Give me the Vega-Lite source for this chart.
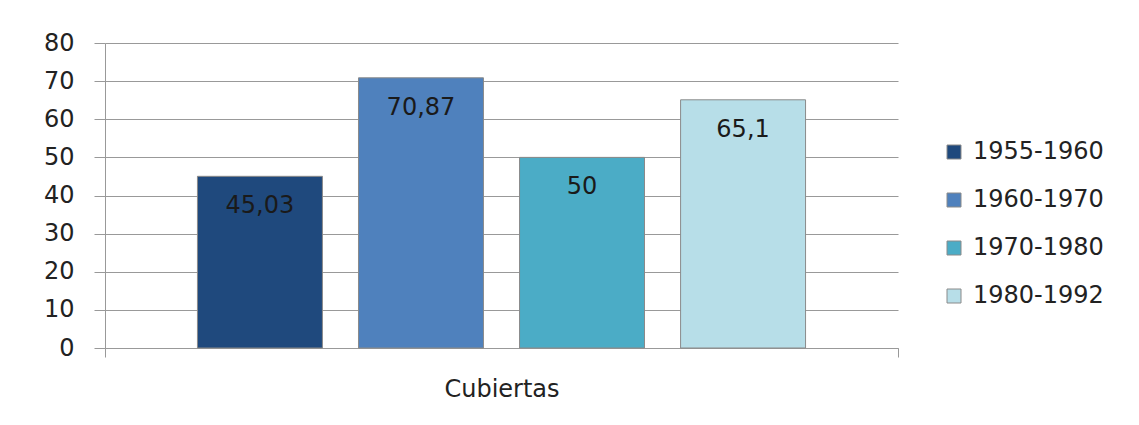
{
  "$schema": "https://vega.github.io/schema/vega-lite/v6.json",
  "autosize": {"type": "none"},
  "padding": {"left": 105, "top": 43, "right": 241, "bottom": 77},
  "width": 793,
  "height": 305,
  "background": "white",
  "config": {
    "view": {"stroke": null},
    "font": "DejaVu Sans"
  },
  "data": {
    "values": [
      {"categoria": "Cubiertas", "periodo": "1955-1960", "valor": 45.03, "etiqueta": "45,03"},
      {"categoria": "Cubiertas", "periodo": "1960-1970", "valor": 70.87, "etiqueta": "70,87"},
      {"categoria": "Cubiertas", "periodo": "1970-1980", "valor": 50, "etiqueta": "50"},
      {"categoria": "Cubiertas", "periodo": "1980-1992", "valor": 65.1, "etiqueta": "65,1"}
    ]
  },
  "encoding": {
    "x": {
      "field": "categoria",
      "type": "nominal",
      "scale": {"paddingInner": 0, "paddingOuter": 0},
      "axis": {
        "title": null,
        "labelAngle": 0,
        "labelFont": "DejaVu Sans",
        "labelFontSize": 24,
        "labelColor": "#222222",
        "labelPadding": 20,
        "tickBand": "extent",
        "tickSize": 9,
        "tickColor": "#999999",
        "domainColor": "#999999",
        "grid": false
      }
    },
    "xOffset": {
      "field": "periodo",
      "type": "nominal",
      "scale": {"paddingInner": 0.224, "paddingOuter": 0.574}
    },
    "y": {
      "field": "valor",
      "type": "quantitative",
      "scale": {"domain": [0, 80], "nice": false},
      "axis": {
        "title": null,
        "values": [0, 10, 20, 30, 40, 50, 60, 70, 80],
        "labelFont": "DejaVu Sans",
        "labelFontSize": 24,
        "labelColor": "#222222",
        "labelPadding": 20,
        "tickSize": 11,
        "tickColor": "#999999",
        "domainColor": "#999999",
        "gridColor": "#999999",
        "gridOpacity": 1
      }
    }
  },
  "layer": [
    {
      "mark": {"type": "bar", "stroke": "#8a8a8a", "strokeWidth": 1},
      "encoding": {
        "color": {
          "field": "periodo",
          "type": "nominal",
          "scale": {
            "domain": ["1955-1960", "1960-1970", "1970-1980", "1980-1992"],
            "range": ["#1F497D", "#4F81BD", "#4BACC6", "#B7DEE8"]
          },
          "legend": {
            "title": null,
            "orient": "none",
            "legendX": 837,
            "legendY": 97,
            "padding": 0,
            "symbolType": "square",
            "symbolSize": 196,
            "symbolStrokeColor": "#8a8a8a",
            "symbolStrokeWidth": 1,
            "symbolOpacity": 1,
            "labelFont": "DejaVu Sans",
            "labelFontSize": 24,
            "labelColor": "#222222",
            "labelOffset": 7,
            "rowPadding": 24
          }
        }
      }
    },
    {
      "mark": {"type": "text", "baseline": "middle", "dy": 30, "fontSize": 24, "font": "DejaVu Sans", "color": "#1a1a1a"},
      "encoding": {
        "text": {"field": "etiqueta", "type": "nominal"}
      }
    }
  ]
}
